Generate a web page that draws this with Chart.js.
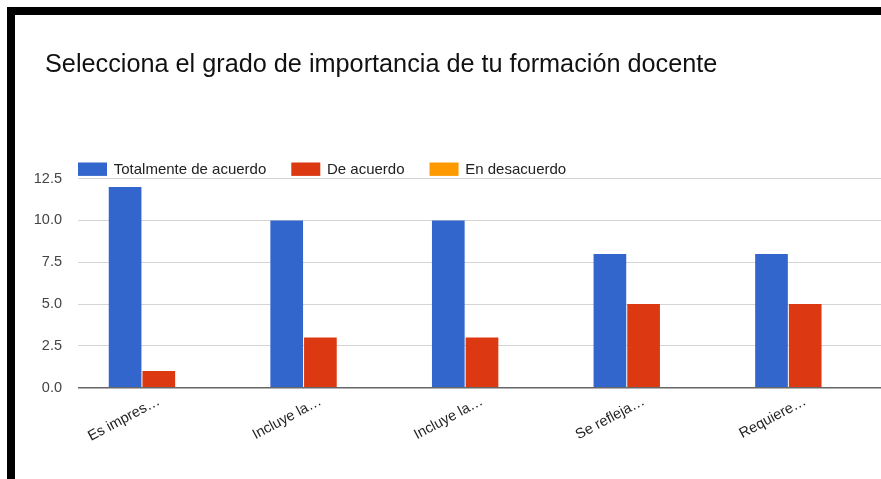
<!DOCTYPE html>
<html><head><meta charset="utf-8">
<script src="https://cdn.jsdelivr.net/npm/chart.js@4.4.1/dist/chart.umd.min.js"></script>
<style>
html,body{margin:0;padding:0;background:#fff;overflow:hidden;width:881px;height:479px;}
#bt{position:absolute;left:7px;top:7px;width:874px;height:8px;background:#000;}
#bl{position:absolute;left:7px;top:7px;width:8px;height:472px;background:#000;}
#wrap{position:absolute;left:15px;top:15px;width:871px;height:464px;}
</style></head><body>
<div id="bt"></div><div id="bl"></div>
<div id="wrap"><canvas id="c"></canvas></div>
<script>
const categories = ["Es impres…", "Incluye la…", "Incluye la…", "Se refleja…", "Requiere…"];
const seriesNames = ["Totalmente de acuerdo", "De acuerdo", "En desacuerdo"];
const totalmenteDeAcuerdo = [12, 10, 10, 8, 8];
const deAcuerdo = [1, 3, 3, 5, 5];
const enDesacuerdo = [0, 0, 0, 0, 0];
const yTickValues = [0, 2.5, 5, 7.5, 10, 12.5];
const chartTitle = "Selecciona el grado de importancia de tu formación docente";

const FONT = '"Liberation Sans", Arial, sans-serif';

const legendPlugin = {
  id: 'gLegend',
  afterLayout(chart) {
    if (chart.titleBlock) chart.titleBlock.left = 30;
  },
  afterDraw(chart) {
    const ctx = chart.ctx, a = chart.chartArea;
    let x = a.left;
    const top = a.top - 16.1;
    ctx.save();
    ctx.font = '15px ' + FONT;
    ctx.textBaseline = 'middle';
    ctx.textAlign = 'left';
    chart.data.datasets.forEach(ds => {
      ctx.fillStyle = ds.backgroundColor;
      ctx.fillRect(x, top, 29, 13.4);
      ctx.fillStyle = '#222';
      ctx.fillText(ds.label, x + 35.7, top + 7.5);
      x += 35.7 + ctx.measureText(ds.label).width + 25;
    });
    ctx.restore();
  }
};

new Chart(document.getElementById('c'), {
  type: 'bar',
  data: {
    labels: categories,
    datasets: [
      { label: seriesNames[0], data: totalmenteDeAcuerdo, backgroundColor: '#3366cc' },
      { label: seriesNames[1], data: deAcuerdo, backgroundColor: '#dc3912' },
      { label: seriesNames[2], data: enDesacuerdo, backgroundColor: '#ff9900' }
    ]
  },
  options: {
    responsive: true,
    maintainAspectRatio: false,
    animation: false,
    layout: { padding: { left: 5, right: 0, top: 0, bottom: 0 } },
    datasets: { bar: { categoryPercentage: 0.6256, barPercentage: 0.97, borderWidth: 0 } },
    plugins: {
      legend: { display: false },
      tooltip: { enabled: false },
      title: {
        display: true,
        text: chartTitle,
        align: 'start',
        color: '#111',
        font: { family: FONT, size: 25.25, weight: 'normal', lineHeight: 1.2 },
        padding: { top: 34.5, bottom: 98.8 }
      }
    },
    scales: {
      x: {
        grid: { display: false },
        border: { display: false },
        ticks: {
          color: '#222',
          font: { family: FONT, size: 14.5 },
          maxRotation: 28, minRotation: 28,
          padding: -3
        },
        afterFit(s) { s.height = 91.3; }
      },
      y: {
        min: 0, max: 12.5,
        afterBuildTicks(s) { s.ticks = yTickValues.map(v => ({ value: v })); },
        afterFit(s) { s.width = 58; },
        border: { display: false },
        grid: {
          drawTicks: false,
          color: c => (c.tick && c.tick.value === 0) ? '#666' : '#d4d4d4',
          lineWidth: c => (c.tick && c.tick.value === 0) ? 1.5 : 1
        },
        ticks: {
          color: '#444',
          padding: 16,
          font: { family: FONT, size: 14.5 },
          callback: v => Number(v).toFixed(1)
        }
      }
    }
  },
  plugins: [legendPlugin]
});
</script>
</body></html>
